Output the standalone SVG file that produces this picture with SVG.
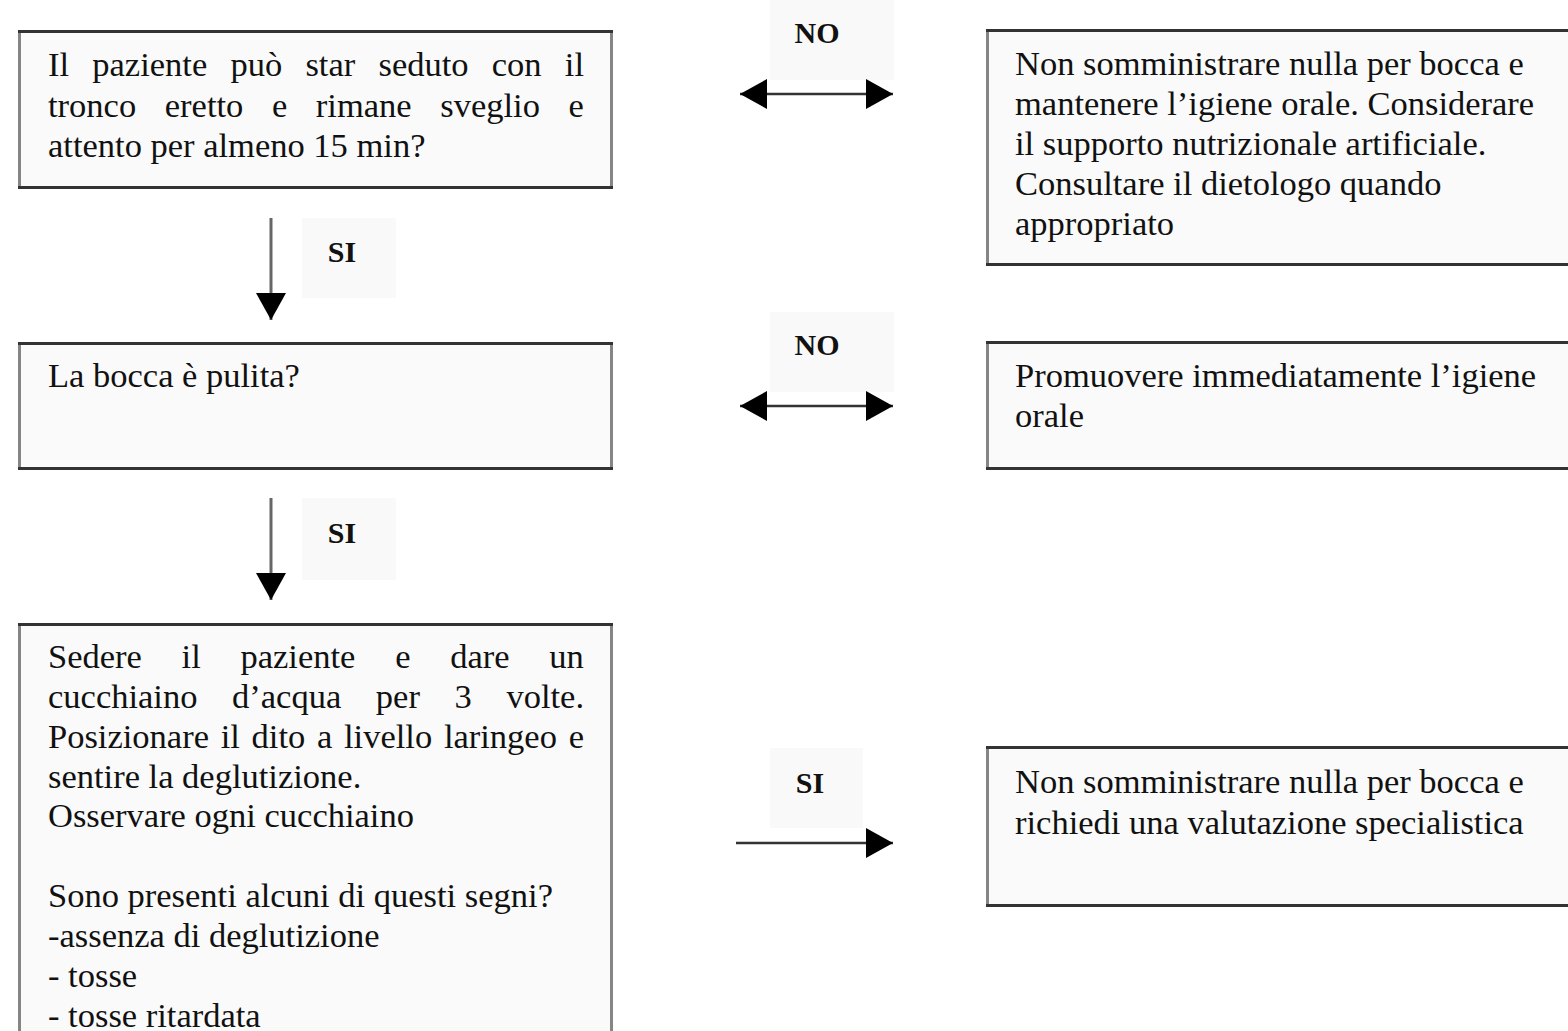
<svg xmlns="http://www.w3.org/2000/svg" width="1568" height="1031" viewBox="0 0 1568 1031">
<style>
.box{fill:#fafafa;stroke:#858585;stroke-width:3}
.edge{stroke:#333;stroke-width:3}
.t{font-family:"Liberation Serif","Times New Roman",serif;font-size:34.5px;fill:#111}
.lbl{fill:#f9f9f9}
.lt{font-family:"Liberation Serif","Times New Roman",serif;font-size:30px;font-weight:bold;fill:#111;text-anchor:middle}
.c{stroke:#333;stroke-width:2.6;fill:none}
.cv{stroke:#666;stroke-width:3;fill:none}
</style>
<defs>
<marker id="ah" viewBox="0 0 27 30" refX="27" refY="15" markerWidth="27" markerHeight="30" markerUnits="userSpaceOnUse" orient="auto-start-reverse">
<path d="M0,0 L27,15 L0,30 Z" fill="#000"/>
</marker>
</defs>
<rect width="1568" height="1031" fill="#fff"/>

<g id="labels">
<g id="lbl-no1"><rect class="lbl" x="770" y="0" width="124" height="80"/><text class="lt" x="817" y="43">NO</text></g>
<g id="lbl-no2"><rect class="lbl" x="770" y="312" width="124" height="80"/><text class="lt" x="817" y="355">NO</text></g>
<g id="lbl-si1"><rect class="lbl" x="302" y="218" width="94" height="80"/><text class="lt" x="342" y="262">SI</text></g>
<g id="lbl-si2"><rect class="lbl" x="302" y="498" width="94" height="82"/><text class="lt" x="342" y="543">SI</text></g>
<g id="lbl-si3"><rect class="lbl" x="770" y="748" width="93" height="80"/><text class="lt" x="810" y="793">SI</text></g>
</g>

<g id="connectors">
<line class="c" x1="740" y1="94" x2="893" y2="94" marker-start="url(#ah)" marker-end="url(#ah)"/>
<line class="c" x1="740" y1="406" x2="893" y2="406" marker-start="url(#ah)" marker-end="url(#ah)"/>
<line class="c" x1="736" y1="843" x2="893" y2="843" marker-end="url(#ah)"/>
<line class="cv" x1="271" y1="218" x2="271" y2="320" marker-end="url(#ah)"/>
<line class="cv" x1="271" y1="498" x2="271" y2="600" marker-end="url(#ah)"/>
</g>

<g id="box1">
<rect class="box" x="19.5" y="31.5" width="592" height="156"/>
<line class="edge" x1="18" y1="31.5" x2="613" y2="31.5"/><line class="edge" x1="18" y1="187.5" x2="613" y2="187.5"/>
<text class="t" x="48" y="76" word-spacing="14.6">Il paziente può star seduto con il</text>
<text class="t" x="48" y="117" word-spacing="20">tronco eretto e rimane sveglio e</text>
<text class="t" x="48" y="157">attento per almeno 15 min?</text>
</g>

<g id="box2">
<rect class="box" x="19.5" y="343.5" width="592" height="125"/>
<line class="edge" x1="18" y1="343.5" x2="613" y2="343.5"/><line class="edge" x1="18" y1="468.5" x2="613" y2="468.5"/>
<text class="t" x="48" y="387">La bocca è pulita?</text>
</g>

<g id="box3">
<rect class="box" x="19.5" y="624.5" width="592" height="430"/>
<line class="edge" x1="18" y1="624.5" x2="613" y2="624.5"/>
<text class="t" x="48" y="668" word-spacing="31.1">Sedere il paziente e dare un</text>
<text class="t" x="48" y="708" word-spacing="26">cucchiaino d’acqua per 3 volte.</text>
<text class="t" x="48" y="748" word-spacing="3.1">Posizionare il dito a livello laringeo e</text>
<text class="t" x="48" y="788">sentire la deglutizione.</text>
<text class="t" x="48" y="827">Osservare ogni cucchiaino</text>
<text class="t" x="48" y="907">Sono presenti alcuni di questi segni?</text>
<text class="t" x="48" y="947">-assenza di deglutizione</text>
<text class="t" x="48" y="987">- tosse</text>
<text class="t" x="48" y="1027">- tosse ritardata</text>
</g>

<g id="rbox1">
<rect class="box" x="987.5" y="30.5" width="600" height="234"/>
<line class="edge" x1="986" y1="30.5" x2="1568" y2="30.5"/><line class="edge" x1="986" y1="264.5" x2="1568" y2="264.5"/>
<text class="t" x="1015" y="75">Non somministrare nulla per bocca e</text>
<text class="t" x="1015" y="115">mantenere l’igiene orale. Considerare</text>
<text class="t" x="1015" y="155">il supporto nutrizionale artificiale.</text>
<text class="t" x="1015" y="195">Consultare il dietologo quando</text>
<text class="t" x="1015" y="235">appropriato</text>
</g>

<g id="rbox2">
<rect class="box" x="987.5" y="342.5" width="600" height="126"/>
<line class="edge" x1="986" y1="342.5" x2="1568" y2="342.5"/><line class="edge" x1="986" y1="468.5" x2="1568" y2="468.5"/>
<text class="t" x="1015" y="387">Promuovere immediatamente l’igiene</text>
<text class="t" x="1015" y="427">orale</text>
</g>

<g id="rbox3">
<rect class="box" x="987.5" y="747.5" width="600" height="158"/>
<line class="edge" x1="986" y1="747.5" x2="1568" y2="747.5"/><line class="edge" x1="986" y1="905.5" x2="1568" y2="905.5"/>
<text class="t" x="1015" y="793">Non somministrare nulla per bocca e</text>
<text class="t" x="1015" y="834">richiedi una valutazione specialistica</text>
</g>
</svg>
